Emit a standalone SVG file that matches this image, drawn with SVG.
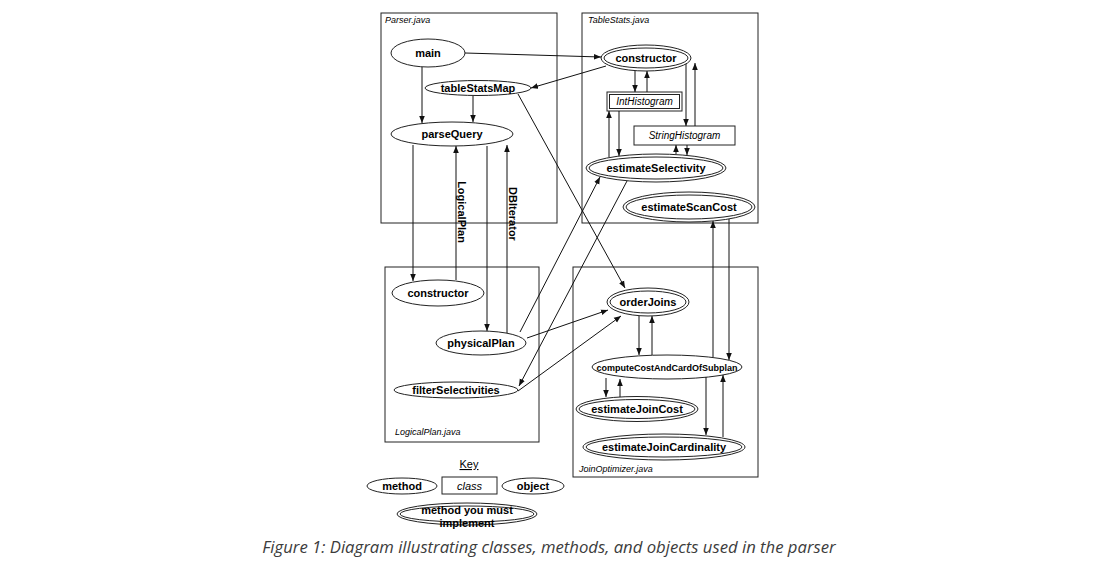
<svg xmlns="http://www.w3.org/2000/svg" width="1114" height="578" viewBox="0 0 1114 578">
<style>
.box{fill:none;stroke:#222;stroke-width:1}
.nd{fill:#fff;stroke:#222;stroke-width:1}
.t{font-family:"Liberation Sans",Arial,sans-serif;font-weight:bold;font-size:11px;fill:#000;text-anchor:middle}
.ti{font-family:"Liberation Sans",Arial,sans-serif;font-style:italic;font-size:10px;fill:#000;text-anchor:middle}
.lbl{font-family:"Liberation Sans",Arial,sans-serif;font-style:italic;font-size:9px;fill:#000}
.c line{stroke:#111;stroke-width:1;marker-end:url(#ah)}
.cap{font-family:"Open Sans",sans-serif;font-style:italic;font-size:16.7px;fill:#3c3c3c;text-anchor:middle}
</style>
<defs>
<marker id="ah" viewBox="0 0 10 10" refX="10" refY="5" markerWidth="7" markerHeight="7" orient="auto" markerUnits="userSpaceOnUse"><path d="M0,1 L10,5 L0,9 z" fill="#111"/></marker>
</defs>
<rect width="1114" height="578" fill="#fff"/>

<g id="parser-java"><rect class="box" x="381" y="13" width="176" height="210"/><text class="lbl" x="385" y="23">Parser.java</text></g>
<g id="tablestats-java"><rect class="box" x="582" y="13" width="176" height="210"/><text class="lbl" x="588" y="23">TableStats.java</text></g>
<g id="logicalplan-java"><rect class="box" x="385" y="267" width="154" height="175"/><text class="lbl" x="395" y="435">LogicalPlan.java</text></g>
<g id="joinoptimizer-java"><rect class="box" x="573" y="267" width="185" height="210"/><text class="lbl" x="579" y="472">JoinOptimizer.java</text></g>

<g id="main"><ellipse class="nd" cx="428" cy="53" rx="37" ry="14"/><text class="t" x="428" y="57">main</text></g>
<g id="tableStatsMap"><ellipse class="nd" cx="478" cy="88" rx="53" ry="7.5"/><text class="t" x="478" y="92">tableStatsMap</text></g>
<g id="parseQuery"><ellipse class="nd" cx="452" cy="134" rx="61" ry="12"/><text class="t" x="452" y="138">parseQuery</text></g>

<g id="ts-constructor"><ellipse class="nd" cx="646" cy="58" rx="45" ry="13"/><ellipse class="nd" cx="646" cy="58" rx="42" ry="10"/><text class="t" x="646" y="62">constructor</text></g>
<g id="IntHistogram"><rect class="nd" x="607" y="92" width="75" height="19"/><rect class="nd" x="609.5" y="94.5" width="70" height="14"/><text class="ti" x="644.5" y="105">IntHistogram</text></g>
<g id="StringHistogram"><rect class="nd" x="634" y="126" width="101" height="19"/><text class="ti" x="684.5" y="139">StringHistogram</text></g>
<g id="estimateSelectivity"><ellipse class="nd" cx="656" cy="168" rx="70" ry="14"/><ellipse class="nd" cx="656" cy="168" rx="67" ry="11"/><text class="t" x="656" y="172">estimateSelectivity</text></g>
<g id="estimateScanCost"><ellipse class="nd" cx="689" cy="207" rx="66" ry="15"/><ellipse class="nd" cx="689" cy="207" rx="63" ry="12"/><text class="t" x="689" y="211">estimateScanCost</text></g>

<g id="lp-constructor"><ellipse class="nd" cx="438" cy="293" rx="46" ry="13"/><text class="t" x="438" y="297">constructor</text></g>
<g id="physicalPlan"><ellipse class="nd" cx="481" cy="343" rx="45" ry="12"/><text class="t" x="481" y="347">physicalPlan</text></g>
<g id="filterSelectivities"><ellipse class="nd" cx="456" cy="390" rx="62" ry="8"/><text class="t" x="456" y="394">filterSelectivities</text></g>

<g id="orderJoins"><ellipse class="nd" cx="648" cy="302" rx="41" ry="14"/><ellipse class="nd" cx="648" cy="302" rx="38" ry="11"/><text class="t" x="648" y="306">orderJoins</text></g>
<g id="computeCostAndCardOfSubplan"><ellipse class="nd" cx="667" cy="367" rx="75" ry="12"/><text class="t" x="667" y="370.5" style="font-size:9px">computeCostAndCardOfSubplan</text></g>
<g id="estimateJoinCost"><ellipse class="nd" cx="637" cy="409" rx="61" ry="12.5"/><ellipse class="nd" cx="637" cy="409" rx="58" ry="9.5"/><text class="t" x="637" y="413">estimateJoinCost</text></g>
<g id="estimateJoinCardinality"><ellipse class="nd" cx="664" cy="447" rx="81" ry="13"/><ellipse class="nd" cx="664" cy="447" rx="78" ry="10"/><text class="t" x="664" y="451">estimateJoinCardinality</text></g>

<g id="connectors" class="c">
<line x1="422" y1="67" x2="422" y2="123"/>
<line x1="473" y1="96" x2="473" y2="122"/>
<line x1="465" y1="53" x2="601" y2="57"/>
<line x1="606" y1="66" x2="531" y2="88"/>
<line x1="518" y1="94" x2="625" y2="288"/>
<line x1="413" y1="145" x2="413" y2="281"/>
<line x1="456" y1="280" x2="456" y2="146"/>
<line x1="487" y1="146" x2="487" y2="331"/>
<line x1="507" y1="333" x2="507" y2="145"/>
<line x1="635" y1="71" x2="635" y2="92"/>
<line x1="647" y1="92" x2="647" y2="71"/>
<line x1="686" y1="64" x2="686" y2="126"/>
<line x1="695" y1="126" x2="695" y2="63"/>
<line x1="609" y1="157" x2="609" y2="111"/>
<line x1="619" y1="111" x2="619" y2="156"/>
<line x1="676" y1="154" x2="676" y2="145"/>
<line x1="687" y1="145" x2="687" y2="155"/>
<line x1="520" y1="332" x2="600" y2="177"/>
<line x1="627" y1="181" x2="519" y2="386"/>
<line x1="527" y1="338" x2="608" y2="310"/>
<line x1="518" y1="391" x2="621" y2="316"/>
<line x1="713" y1="357" x2="713" y2="221"/>
<line x1="729" y1="219" x2="729" y2="360"/>
<line x1="639" y1="316" x2="639" y2="355"/>
<line x1="652" y1="355" x2="652" y2="316"/>
<line x1="606" y1="378" x2="606" y2="397"/>
<line x1="620" y1="397" x2="620" y2="379"/>
<line x1="706" y1="377" x2="706" y2="435"/>
<line x1="723" y1="437" x2="723" y2="375"/>
</g>

<g id="label-logicalplan"><text class="t" transform="translate(458,212) rotate(90)">LogicalPlan</text></g>
<g id="label-dbiterator"><text class="t" transform="translate(509,214) rotate(90)">DBIterator</text></g>

<g id="key">
<text class="t" x="469" y="468" style="font-weight:normal;text-decoration:underline">Key</text>
<g id="key-method"><ellipse class="nd" cx="402" cy="486" rx="35" ry="8"/><text class="t" x="402" y="490">method</text></g>
<g id="key-class"><rect class="nd" x="442" y="477" width="55" height="17"/><text class="ti" x="469.5" y="489.5" style="font-size:11px">class</text></g>
<g id="key-object"><ellipse class="nd" cx="533" cy="486" rx="31" ry="8"/><text class="t" x="533" y="490">object</text></g>
<g id="key-implement"><ellipse class="nd" cx="467" cy="514" rx="70" ry="11"/><ellipse class="nd" cx="467" cy="514" rx="67" ry="8"/><text class="t" x="467" y="514">method you must</text><text class="t" x="467" y="527">implement</text></g>
</g>

<text class="cap" x="549" y="553">Figure 1: Diagram illustrating classes, methods, and objects used in the parser</text>
</svg>
